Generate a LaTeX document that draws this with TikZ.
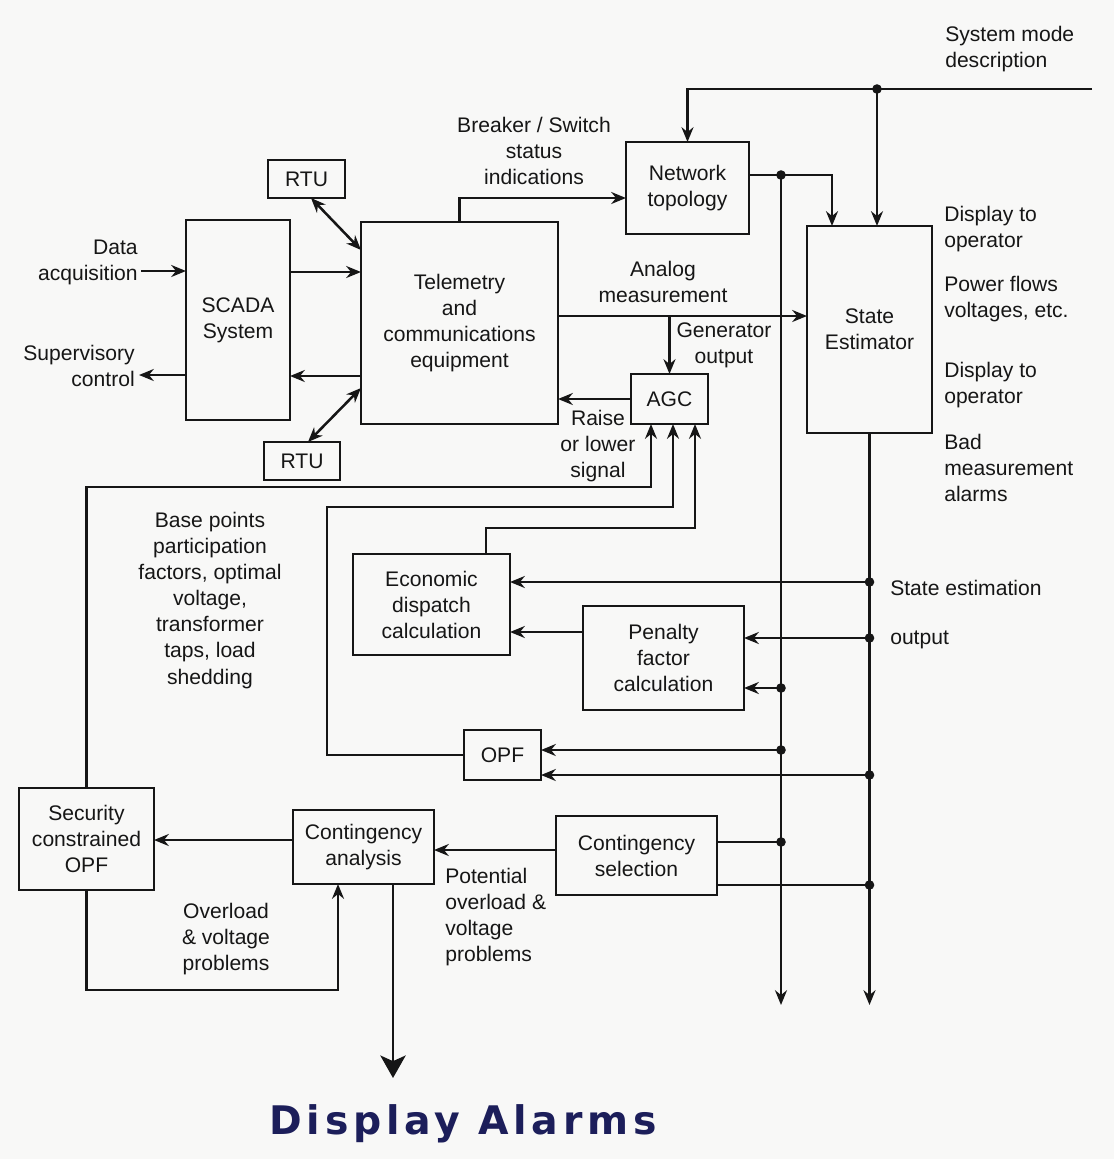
\documentclass[tikz,border=0pt]{standalone}
\usepackage{fontspec}
\setmainfont{Liberation Sans}
\newfontfamily\handfont[LetterSpace=12]{DejaVu Sans}
\usetikzlibrary{arrows.meta}
\definecolor{ink}{RGB}{22,22,22}
\definecolor{penblue}{RGB}{28,30,90}
\definecolor{paper}{RGB}{248,248,247}
\begin{document}
\begin{tikzpicture}[x=0.025cm,y=-0.025cm,
  every node/.style={font=\fontsize{15}{18.5}\selectfont, text=ink},
  box/.style={draw=ink, line width=1.8pt, inner sep=0pt, outer sep=0pt, align=center},
  ln/.style={draw=ink, line width=1.8pt},
  arr/.style={ln, -{Stealth[length=10.5pt,width=8.5pt]}},
  darr/.style={ln, {Stealth[length=10.5pt,width=8.5pt]}-{Stealth[length=10.5pt,width=8.5pt]}},
  bigarr/.style={ln, -{Stealth[length=16pt,width=18pt,inset=4pt]}},
  lab/.style={inner sep=0pt, align=center},
  labl/.style={inner sep=0pt, align=left, anchor=west},
  labr/.style={inner sep=0pt, align=right, anchor=east},
]
\fill[paper] (0,0) rectangle (1114,1159);
\useasboundingbox (0,0) rectangle (1114,1159);

% ---------- blocks ----------
\node[box, minimum width=1.925cm, minimum height=0.95cm] (rtuA) at (306.5,179) {RTU};
\node[box, minimum width=2.6cm, minimum height=5cm] (scada) at (238,320) {SCADA\\System};
\node[box, minimum width=4.925cm, minimum height=5.05cm] (tele) at (459.5,323) {Telemetry\\and\\communications\\equipment};
\node[box, minimum width=1.9cm, minimum height=0.95cm] (rtuB) at (302,461) {RTU};
\node[box, minimum width=3.075cm, minimum height=2.3cm] (net) at (687.5,188) {Network\\topology};
\node[box, minimum width=3.125cm, minimum height=5.175cm] (se) at (869.5,329.5) {State\\Estimator};
\node[box, minimum width=1.925cm, minimum height=1.25cm] (agc) at (669.5,399) {AGC};
\node[box, minimum width=3.925cm, minimum height=2.525cm] (ed) at (431.5,604.5) {Economic\\dispatch\\calculation};
\node[box, minimum width=4.025cm, minimum height=2.6cm] (pen) at (663.5,658) {Penalty\\factor\\calculation};
\node[box, minimum width=1.925cm, minimum height=1.25cm] (opf) at (502.5,755) {OPF};
\node[box, minimum width=3.375cm, minimum height=2.55cm] (scopf) at (86.5,839) {Security\\constrained\\OPF};
\node[box, minimum width=3.525cm, minimum height=1.85cm] (ca) at (363.5,847) {Contingency\\analysis};
\node[box, minimum width=4.025cm, minimum height=1.975cm] (cs) at (636.5,855.5) {Contingency\\selection};

% ---------- labels ----------
\node[labl] (smdtxt) at (945,49) {System mode\\description};
\node[lab] (brk) at (534,151) {Breaker / Switch\\status\\indications};
\node[labr] (da) at (138,262) {Data\\acquisition};
\node[labr] (sup) at (135,366) {Supervisory\\control};
\node[lab] (anl) at (663,282) {Analog\\measurement};
\node[lab] (gen) at (724,345) {Generator\\output};
\node[lab] (rls) at (598,446) {Raise\\or lower\\signal};
\node[labl] (dop1) at (944,229) {Display to\\operator};
\node[labl] (pfv) at (944,299.5) {Power flows\\voltages, etc.};
\node[labl] (dop2) at (944,385) {Display to\\operator};
\node[labl] (bad) at (944,468) {Bad\\measurement\\alarms};
\node[lab] (base) at (210,600.5) {Base points\\participation\\factors, optimal\\voltage,\\transformer\\taps, load\\shedding};
\node[labl] (seo1) at (890,588) {State estimation};
\node[labl] (seo2) at (890,640) {output};
\node[lab] (ovl) at (226,939) {Overload\\\& voltage\\problems};
\node[labl] (pot) at (445,917.5) {Potential\\overload \&\\voltage\\problems};
\node[inner sep=0pt, font=\handfont\bfseries\fontsize{28}{32}\selectfont, text=penblue] (alm) at (463,1124) {Display Alarms};

% ---------- junctions and free ends ----------
\coordinate (smd) at (1092,89);
\coordinate (jsm) at (877,89);
\coordinate (jn) at (781,175);
\coordinate (endA) at (781,1005);
\coordinate (alarm) at (393,1078);
\path (se.south |- 0,582) coordinate (e1)
      (se.south |- 0,638) coordinate (e2)
      (se.south |- 0,775) coordinate (e3)
      (se.south |- 0,885) coordinate (e4);
\path (jn |- 0,688) coordinate (n1)
      (jn |- 0,750) coordinate (n2)
      (jn |- 0,842) coordinate (n3);

% ---------- connectors ----------
% system mode description bus
\draw[arr] (smd) -| (net.north);
\draw[arr] (jsm) -- (se.north -| jsm);
% topology to state estimator and down the bus
\draw[arr] (net.east |- jn) -| (se.north -| 832,0);
\draw[arr] (jn) -- (endA);
\draw[arr] (se.south) -- (se.south |- endA);
% breaker / switch status
\draw[arr] (tele.north) |- (net.west |- 0,198);
% RTUs
\draw[darr] (rtuA.south -| 311,0) -- (tele.west |- 0,250);
\draw[darr] (rtuB.north -| 308,0) -- (tele.west |- 0,388);
% SCADA links
\draw[arr] (da.east |- 0,271) ++(3,0) -- (scada.west |- 0,271);
\draw[arr] (scada.west |- 0,375) -- ([xshift=0.1cm]sup.east |- 0,375);
\draw[arr] (scada.east |- 0,272) -- (tele.west |- 0,272);
\draw[arr] (tele.west |- 0,376) -- (scada.east |- 0,376);
% analog measurement and AGC
\draw[arr] (tele.east |- 0,316) -- (se.west |- 0,316);
\draw[arr] (agc.north |- 0,316) -- (agc.north);
\draw[arr] (agc.west) -- (tele.east |- agc.west);
\draw[arr] (scopf.north) |- (651,487) -- (agc.south -| 651,0);
\draw[arr] (opf.west) -| (327,507) -| (agc.south -| 673,0);
\draw[arr] (ed.north -| 486,0) -- (486,528) -| (agc.south -| 695,0);
% state estimation output
\draw[arr] (e1) -- (ed.east |- e1);
\draw[arr] (e2) -- (pen.east |- e2);
\draw[arr] (n1) -- (pen.east |- n1);
\draw[arr] (pen.west |- 0,632) -- (ed.east |- 0,632);
\draw[arr] (n2) -- (opf.east |- n2);
\draw[arr] (e3) -- (opf.east |- e3);
\draw[ln] (cs.east |- n3) -- (n3);
\draw[ln] (cs.east |- e4) -- (e4);
% contingency chain
\draw[arr] (cs.west |- 0,850) -- (ca.east |- 0,850);
\draw[arr] (ca.west |- 0,840) -- (scopf.east |- 0,840);
\draw[arr] (scopf.south) |- (338,990) -- (ca.south -| 338,0);
\draw[bigarr] (ca.south -| 393,0) -- (alarm);

% junction dots
\foreach \p in {jsm,jn,e1,e2,e3,e4,n1,n2,n3}
  \fill[ink] (\p) circle[radius=0.12cm];
\end{tikzpicture}
\end{document}
